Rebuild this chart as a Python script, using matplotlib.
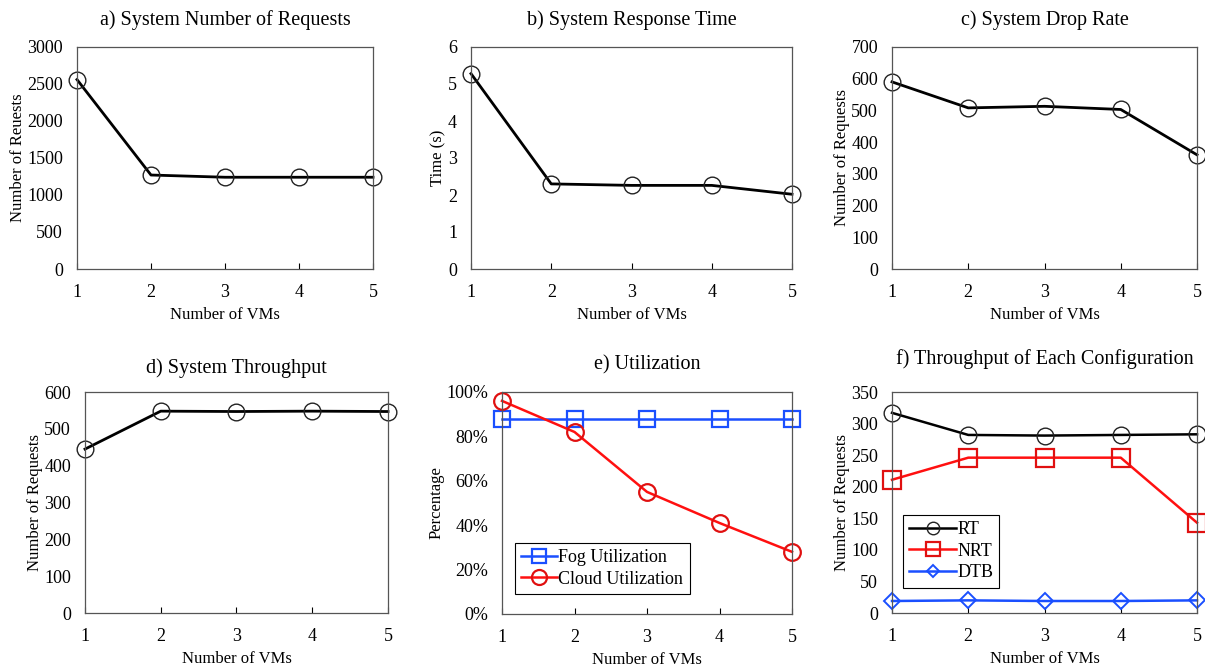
import matplotlib.pyplot as plt
from matplotlib.ticker import FuncFormatter

plt.rcParams['font.family'] = ['Liberation Serif', 'DejaVu Serif']

vms = [1, 2, 3, 4, 5]

sys_requests = [2560, 1270, 1240, 1240, 1240]
resp_time = [5.28, 2.30, 2.26, 2.26, 2.02]
drop_rate = [590, 508, 513, 503, 360]
throughput = [445, 548, 547, 548, 547]
fog_util = [0.88, 0.88, 0.88, 0.88, 0.88]
cloud_util = [0.96, 0.82, 0.55, 0.41, 0.28]
rt_tp = [317, 282, 281, 282, 283]
nrt_tp = [211, 246, 246, 246, 143]
dtb_tp = [19, 20, 19, 19, 20]

W, H = 1205, 669
fig = plt.figure(figsize=(W / 100, H / 100), dpi=100)


def make_ax(l, t, r, b):
    ax = fig.add_axes([l / W, 1 - b / H, (r - l) / W, (b - t) / H])
    ax.set_xlim(1, 5)
    ax.set_xticks(vms)
    ax.tick_params(axis='x', direction='in', length=4, labelsize=13, pad=11)
    ax.tick_params(axis='y', length=0, labelsize=13, pad=10)
    for s in ax.spines.values():
        s.set_color('#555555')
        s.set_linewidth(0.9)
    ax.set_xlabel('Number of VMs', fontsize=12, labelpad=4)
    for lab in ax.get_xticklabels() + ax.get_yticklabels():
        lab.set_clip_on(False)
    return ax


circ = dict(marker='o', markersize=12, markerfacecolor='none', markeredgewidth=1.0,
            clip_on=False)

# a
ax = make_ax(77, 47, 373, 269)
ax.plot(vms, sys_requests, color='black', lw=2, markeredgecolor='#222222', **circ)
ax.set_ylim(0, 3000)
ax.set_yticks(range(0, 3001, 500))
ax.set_ylabel('Number of Reuests', fontsize=12, labelpad=1)
ax.set_title('a) System Number of Requests', fontsize=14.5, pad=16)

# b
ax = make_ax(471, 47, 792, 269)
ax.plot(vms, resp_time, color='black', lw=2, markeredgecolor='#222222', **circ)
ax.set_ylim(0, 6)
ax.set_yticks(range(0, 7))
ax.set_ylabel('Time (s)', fontsize=12, labelpad=1)
ax.set_title('b) System Response Time', fontsize=14.5, pad=16)

# c
ax = make_ax(892, 47, 1197, 269)
ax.plot(vms, drop_rate, color='black', lw=2, markeredgecolor='#222222', **circ)
ax.set_ylim(0, 700)
ax.set_yticks(range(0, 701, 100))
ax.set_ylabel('Number of Requests', fontsize=12, labelpad=1)
ax.set_title('c) System Drop Rate', fontsize=14.5, pad=16)

# d
ax = make_ax(85, 392, 388, 613)
ax.plot(vms, throughput, color='black', lw=2, markeredgecolor='#222222', **circ)
ax.set_ylim(0, 600)
ax.set_yticks(range(0, 601, 100))
ax.set_ylabel('Number of Requests', fontsize=12, labelpad=1)
ax.set_title('d) System Throughput', fontsize=14.5, pad=14)

# e
ax = make_ax(502, 392, 792, 614)
ax.plot(vms, fog_util, color='#1a4fff', lw=1.8, marker='s', markersize=11,
        markerfacecolor='none', markeredgecolor='#1a4fff', markeredgewidth=1.6,
        clip_on=False, label='Fog Utilization')
ax.plot(vms, cloud_util, color='#ff1010', lw=1.8, marker='o', markersize=12,
        markerfacecolor='none', markeredgecolor='#e01010', markeredgewidth=1.6,
        clip_on=False, label='Cloud Utilization')
ax.set_ylim(0, 1)
ax.set_yticks([0, 0.2, 0.4, 0.6, 0.8, 1.0])
ax.yaxis.set_major_formatter(FuncFormatter(lambda v, p: '%d%%' % round(v * 100)))
ax.set_ylabel('Percentage', fontsize=12, labelpad=1)
ax.set_title('e) Utilization', fontsize=14.5, pad=16)
leg = ax.legend(loc='lower left', bbox_to_anchor=(0.045, 0.09), fontsize=13,
                fancybox=False, edgecolor='black', framealpha=1, handlelength=2.0,
                handletextpad=0.05, borderpad=0.35, labelspacing=0.25, markerscale=0.9,
                borderaxespad=0)
leg.get_frame().set_linewidth(0.8)

# f
ax = make_ax(892, 392, 1197, 613)
ax.plot(vms, rt_tp, color='black', lw=1.8, marker='o', markersize=12,
        markerfacecolor='none', markeredgecolor='#222222', markeredgewidth=1.0,
        clip_on=False, label='RT')
ax.plot(vms, nrt_tp, color='#ff1010', lw=1.8, marker='s', markersize=13,
        markerfacecolor='none', markeredgecolor='#e01010', markeredgewidth=1.6,
        clip_on=False, label='NRT')
ax.plot(vms, dtb_tp, color='#1a4fff', lw=1.8, marker='D', markersize=8,
        markerfacecolor='none', markeredgecolor='#1a4fff', markeredgewidth=1.4,
        clip_on=False, label='DTB')
ax.set_ylim(0, 350)
ax.set_yticks(range(0, 351, 50))
ax.set_ylabel('Number of Requests', fontsize=12, labelpad=1)
ax.set_title('f) Throughput of Each Configuration', fontsize=14.5, pad=20)
leg = ax.legend(loc='lower left', bbox_to_anchor=(0.036, 0.115), fontsize=13,
                fancybox=False, edgecolor='black', framealpha=1, handlelength=2.6,
                handletextpad=0.05, borderpad=0.35, labelspacing=0.25, markerscale=0.75,
                borderaxespad=0)
leg.get_frame().set_linewidth(0.8)

fig.savefig('out.png', dpi=100, facecolor='white')
